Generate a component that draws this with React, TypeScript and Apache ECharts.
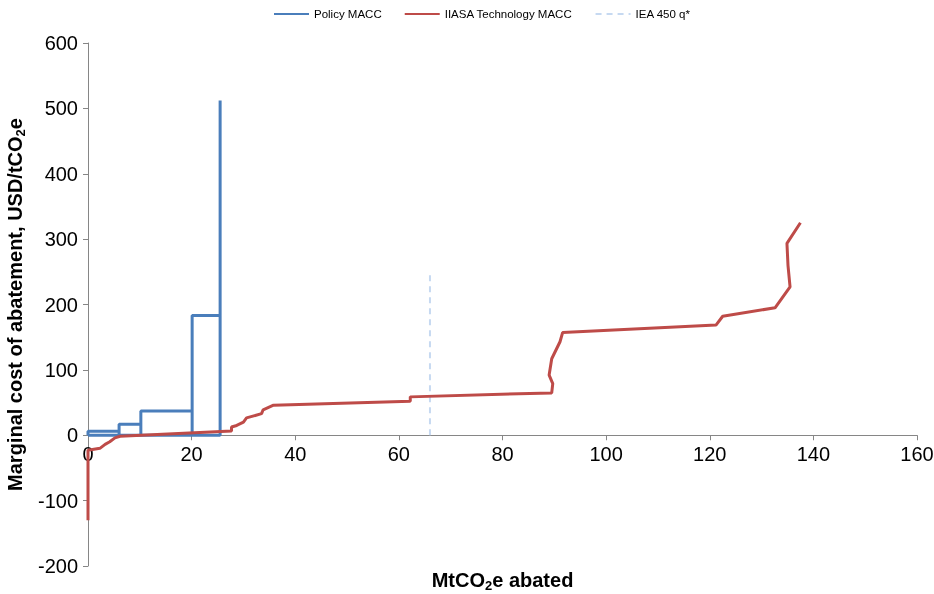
import React, { useEffect, useRef } from "react";
import * as echarts from "echarts";

const policyX = [0, 0, 6, 6, 6, 10.2, 10.2, 10.2, 20.1, 20.1, 20.1, 20.1, 25.5, 25.5, 25.5, 25.5, 25.5, 25.5, 25.5, 25.5, 0];
const policyY = [0, 6, 6, 0, 17, 17, 0, 37, 37, 0, 166, 183, 183, 0, 324, 0, 393, 0, 512, 0, 0];

const techX = [0, 0, 2.3, 3.3, 4.2, 5.2, 6.2, 27.7, 27.7, 28.7, 30, 30.6, 33.5, 33.8, 35.8, 62.2, 62.2, 89.5, 89.7, 89.0, 89.5, 91.1, 91.6, 121.2, 122.5, 132.6, 135.5, 135.1, 134.9, 137.5];
const techY = [-130, -23, -20, -14, -10, -4, -1.5, 6.6, 12.7, 15, 20, 26.5, 33, 39, 46, 52, 58.7, 64.8, 79, 92, 117, 143, 157, 168.5, 182, 195, 227, 260, 293.5, 325];

const ieaX = [66, 66];
const ieaY = [0, 250];

const xTicks = { min: 0, max: 160, interval: 20 };
const yTicks = { min: -200, max: 600, interval: 100 };

const zip = (xs: number[], ys: number[]) => xs.map((x, i) => [x, ys[i]]);

export default function App() {
  const ref = useRef<HTMLDivElement>(null);
  useEffect(() => {
    if (!ref.current) return;
    const chart = echarts.init(ref.current, undefined, { renderer: "svg" });
    const font = "'Liberation Sans', Arial, sans-serif";
    const axisColor = "#868686";
    const gridTop = 43;
    const gridBottom = 28;
    const divH = 594;
    const plotH = divH - gridTop - gridBottom;
    // shift x axis up so it sits on y = 0
    const zeroOffset = -((0 - yTicks.min) / (yTicks.max - yTicks.min)) * plotH;
    const nameRich = {
      a: { fontSize: 20, fontWeight: "bold", color: "#000", fontFamily: font, lineHeight: 24, verticalAlign: "middle" },
      b: { fontSize: 13, fontWeight: "bold", color: "#000", fontFamily: font, lineHeight: 12, verticalAlign: "bottom" },
    };
    chart.setOption({
      animation: false,
      textStyle: { fontFamily: font },
      legend: {
        top: 8,
        left: 273,
        padding: 0,
        itemWidth: 35,
        itemHeight: 10,
        itemGap: 22,
        itemStyle: { opacity: 0 },
        textStyle: { fontSize: 11.5, color: "#000", fontFamily: font },
        data: ["Policy MACC", "IIASA Technology MACC", "IEA 450 q*"],
      },
      grid: {
        left: 88,
        right: 17,
        top: gridTop,
        bottom: gridBottom,
        containLabel: false,
        outerBoundsMode: "none",
      },
      xAxis: {
        type: "value",
        min: xTicks.min,
        max: xTicks.max,
        interval: xTicks.interval,
        position: "bottom",
        offset: zeroOffset,
        name: "{a|MtCO}{b|2}{a|e abated}",
        nameLocation: "middle",
        nameGap: 133,
        nameTextStyle: { rich: nameRich },
        axisLine: { onZero: false, lineStyle: { color: axisColor, width: 1 } },
        axisTick: { show: true, length: 5, lineStyle: { color: axisColor } },
        axisLabel: { fontSize: 20, color: "#000", margin: 9, fontFamily: font },
        splitLine: { show: false },
      },
      yAxis: {
        type: "value",
        min: yTicks.min,
        max: yTicks.max,
        interval: yTicks.interval,
        name: "{a|Marginal cost of abatement, USD/tCO}{b|2}{a|e}",
        nameLocation: "middle",
        nameGap: 52,
        nameTextStyle: { rich: nameRich },
        axisLine: { show: true, onZero: false, lineStyle: { color: axisColor, width: 1 } },
        axisTick: { show: true, length: 5, lineStyle: { color: axisColor } },
        axisLabel: { fontSize: 20, color: "#000", margin: 10, fontFamily: font },
        splitLine: { show: false },
      },
      series: [
        {
          name: "Policy MACC",
          type: "line",
          data: zip(policyX, policyY),
          symbol: "none",
          lineStyle: { color: "#4A7EBB", width: 3 },
          itemStyle: { color: "#4A7EBB" },
          z: 3,
        },
        {
          name: "IIASA Technology MACC",
          type: "line",
          data: zip(techX, techY),
          symbol: "none",
          lineStyle: { color: "#BE4B48", width: 3 },
          itemStyle: { color: "#BE4B48" },
          z: 4,
        },
        {
          name: "IEA 450 q*",
          type: "line",
          data: zip(ieaX, ieaY),
          symbol: "none",
          lineStyle: { color: "#C6D9F1", width: 2, type: [6, 5] },
          itemStyle: { color: "#C6D9F1" },
          z: 2,
        },
      ],
    });
    return () => chart.dispose();
  }, []);
  return (
    <div
      ref={ref}
      style={{ position: "fixed", left: 0, top: 0, width: 934, height: 594 }}
    />
  );
}
